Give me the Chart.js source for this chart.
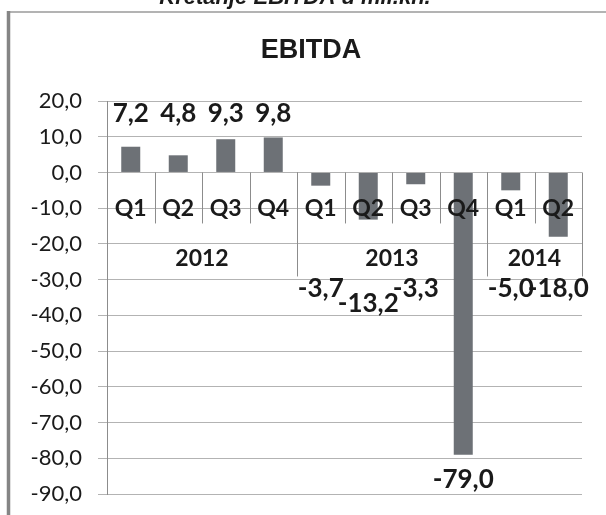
<!DOCTYPE html>
<html>
<head>
<meta charset="utf-8">
<script src="https://cdn.jsdelivr.net/npm/chart.js@4/dist/chart.umd.min.js"></script>
<style>
  html, body { margin: 0; padding: 0; background: #fff; }
  #wrap { position: relative; width: 606px; height: 515px; }
</style>
</head>
<body>
<div id="wrap"><canvas id="ebitda" width="606" height="515"></canvas></div>
<script>
// data
const quarters = ["Q1", "Q2", "Q3", "Q4", "Q1", "Q2", "Q3", "Q4", "Q1", "Q2"];
const years = ["2012", "2013", "2014"];
const quartersPerYear = [4, 4, 2];
const ebitda = [7.2, 4.8, 9.3, 9.8, -3.7, -13.2, -3.3, -79.0, -5.0, -18.0];
// where each value label sits (in axis units), placed by hand in the original
const labelAt = [16.6, 16.6, 16.6, 16.6, -32.5, -36.8, -32.5, -86.0, -32.5, -32.5];
const yTicks = [20, 10, 0, -10, -20, -30, -40, -50, -60, -70, -80, -90];

const fmt = v => v.toFixed(1).replace(".", ",");
const INK = "#1a1a1a";

// scan frame + cut-off caption + title
const framePlugin = {
    id: "frame",
    beforeDraw(chart) {
        const ctx = chart.ctx;
        ctx.save();
        ctx.fillStyle = "#fff";
        ctx.fillRect(0, 0, chart.width, chart.height);
        ctx.fillStyle = INK;
        ctx.font = "italic bold 22px 'Liberation Sans'";
        ctx.textAlign = "center";
        ctx.textBaseline = "alphabetic";
        ctx.fillText("Kretanje EBITDA u mil.kn.", 295, 4);
        ctx.strokeStyle = "#9a9a9a";
        ctx.lineWidth = 1.5;
        ctx.beginPath();
        ctx.moveTo(7, 12);
        ctx.lineTo(chart.width, 12);
        ctx.stroke();
        ctx.strokeStyle = "#858585";
        ctx.lineWidth = 3.5;
        ctx.beginPath();
        ctx.moveTo(8.5, 11);
        ctx.lineTo(8.5, chart.height);
        ctx.stroke();
        ctx.font = "bold 27px 'Liberation Sans'";
        ctx.textBaseline = "middle";
        ctx.fillText("EBITDA", 311, 51);
        ctx.restore();
    }
};

// two-level category axis drawn at the zero line, like Excel does
const categoryPlugin = {
    id: "categories",
    afterDatasetsDraw(chart) {
        const ctx = chart.ctx;
        const x = chart.scales.x;
        const y = chart.scales.y;
        const zeroY = y.getPixelForValue(0);
        const step = x.getPixelForValue(1) - x.getPixelForValue(0);
        const edge = i => x.getPixelForValue(i) - step / 2;

        ctx.save();
        ctx.strokeStyle = "#8c8c8c";
        ctx.lineWidth = 1;
        // short separators between quarters
        for (let i = 1; i < quarters.length; i++) {
            const px = Math.round(edge(i)) + 0.5;
            ctx.beginPath();
            ctx.moveTo(px, zeroY);
            ctx.lineTo(px, zeroY + 51);
            ctx.stroke();
        }
        // longer separators between years
        let idx = 0;
        const yearEdges = [0];
        quartersPerYear.forEach(n => { idx += n; yearEdges.push(idx); });
        yearEdges.forEach(i => {
            const px = Math.round(edge(i)) + 0.5;
            ctx.beginPath();
            ctx.moveTo(px, zeroY);
            ctx.lineTo(px, zeroY + 104);
            ctx.stroke();
        });

        ctx.fillStyle = INK;
        ctx.textAlign = "center";
        ctx.textBaseline = "middle";
        ctx.font = "bold 23px Lato";
        quarters.forEach((q, i) => ctx.fillText(q, x.getPixelForValue(i), zeroY + 36));
        years.forEach((yr, k) => {
            const mid = (edge(yearEdges[k]) + edge(yearEdges[k + 1])) / 2;
            ctx.fillText(yr, mid, zeroY + 86);
        });

        // value labels
        ctx.font = "bold 26px Lato";
        ebitda.forEach((v, i) => {
            ctx.fillText(fmt(v), x.getPixelForValue(i), y.getPixelForValue(labelAt[i]));
        });
        ctx.restore();
    }
};

new Chart(document.getElementById("ebitda"), {
    type: "bar",
    data: {
        labels: quarters.map((q, i) => q + "-" + i),
        datasets: [{
            data: ebitda,
            backgroundColor: "#6d7176",
            borderWidth: 0,
            categoryPercentage: 1.0,
            barPercentage: 0.4,
        }],
    },
    options: {
        responsive: false,
        animation: false,
        layout: {
            padding: { top: 101, right: 24, bottom: 21, left: 0 },
        },
        plugins: {
            legend: { display: false },
            tooltip: { enabled: false },
        },
        scales: {
            x: {
                display: false,
                offset: true,
            },
            y: {
                min: -90,
                max: 20,
                afterFit(scale) {
                    scale.width = 107;
                    scale.paddingTop = 0;
                    scale.paddingBottom = 0;
                },
                afterBuildTicks(scale) { scale.ticks = yTicks.map(v => ({ value: v })); },
                ticks: {
                    color: INK,
                    font: { family: "Lato", size: 22 },
                    padding: 16,
                    callback: v => fmt(v),
                },
                grid: {
                    color: "#b3b3b3",
                    lineWidth: 1,
                    tickLength: 9,
                },
                border: { color: "#8c8c8c", width: 1 },
            },
        },
    },
    plugins: [framePlugin, categoryPlugin],
});
</script>
</body>
</html>
